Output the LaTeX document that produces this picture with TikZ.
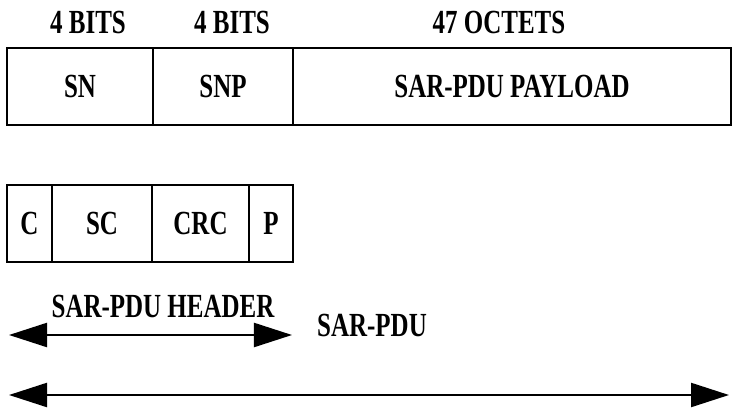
\documentclass[tikz,border=0pt]{standalone}
\usepackage{fontspec}
\newfontfamily\fieldfont[FakeStretch=0.74]{Liberation Serif}
\usetikzlibrary{arrows.meta}
\begin{document}
\begin{tikzpicture}[x=0.025cm, y=-0.025cm,
                    every node/.style={font=\fieldfont\bfseries\fontsize{24}{28}\selectfont, inner sep=0pt},
                    field/.style={draw, line width=1.8pt, minimum height=1.925cm},
                    dim/.style={{Triangle[length=0.95cm, width=0.6cm]}-{Triangle[length=0.95cm, width=0.6cm]}, line width=1.6pt}]
\useasboundingbox (0,0) rectangle (742,413);
\node (bitsa) at (88,22) {4 BITS};
\node (bitsb) at (232,22) {4 BITS};
\node (octets) at (499,22) {47 OCTETS};
\node[field, minimum width=3.65cm] (sn) at (80,86.5) {SN};
\node[field, minimum width=3.5cm] (snp) at (223,86.5) {SNP};
\node[field, minimum width=10.95cm] (payload) at (512,86.5) {SAR-PDU PAYLOAD};
\node[field, minimum width=1.125cm] (c) at (29.5,223.5) {C};
\node[field, minimum width=2.5cm] (sc) at (102,223.5) {SC};
\node[field, minimum width=2.425cm] (crc) at (200.5,223.5) {CRC};
\node[field, minimum width=1.1cm] (p) at (271,223.5) {P};
\node (header) at (163,306) {SAR-PDU HEADER};
\coordinate (hdrl) at (9,335);
\coordinate (hdrr) at (292,335);
\draw[dim] (hdrl) -- (hdrr);
\node (pdu) at (372,325) {SAR-PDU};
\coordinate (pdul) at (9,395);
\coordinate (pdur) at (729,395);
\draw[dim] (pdul) -- (pdur);
\end{tikzpicture}
\end{document}
